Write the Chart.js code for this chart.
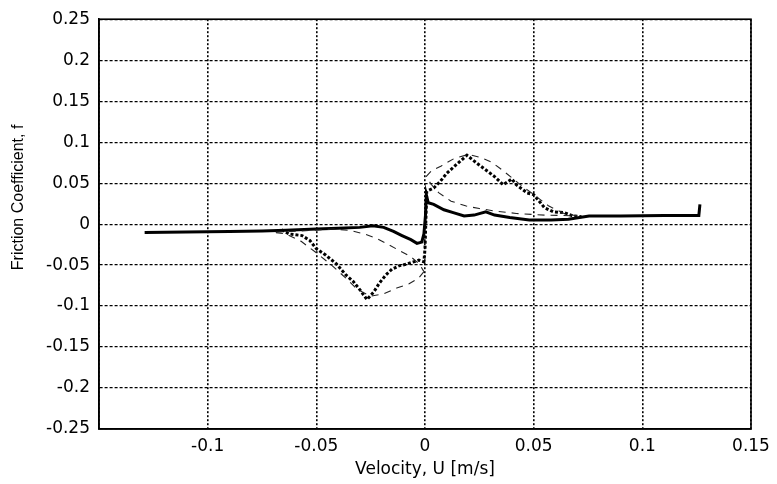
<!DOCTYPE html>
<html lang="en">

<head>
  <meta charset="UTF-8">
  <title>Friction Coefficient vs Velocity</title>
  <script src="https://cdn.jsdelivr.net/npm/chart.js"></script>
  <style>
    body {
      margin: 0;
      background: #ffffff;
    }

    .box_grafico {
      width: 777px;
      height: 484px;
    }
  </style>
</head>

<body>
  <div class="box_grafico">
    <canvas id="graficoAtrito"></canvas>
  </div>

  <script>
    // tick labels (the -0.15 tick on the x axis has no label in the figure)
    const xTickLabels = ['', '-0.1', '-0.05', '0', '0.05', '0.1', '0.15'];
    const yTickLabels = ['-0.25', '-0.2', '-0.15', '-0.1', '-0.05', '0', '0.05', '0.1', '0.15', '0.2', '0.25'];

    // solid thick curve
    const solidU = [-0.129, -0.11, -0.09, -0.075, -0.064, -0.05, -0.04, -0.03, -0.024, -0.019, -0.0145, -0.0106, -0.0065, -0.0037, -0.0015, -0.0005, 0.0002, 0.0006, 0.0015, 0.004, 0.0087, 0.013, 0.018, 0.0226, 0.028, 0.032, 0.039, 0.048, 0.058, 0.066, 0.0755, 0.09, 0.11, 0.126, 0.1265];
    const solidF = [-0.0102, -0.0095, -0.009, -0.0085, -0.0075, -0.006, -0.005, -0.004, -0.002, -0.004, -0.009, -0.014, -0.019, -0.0235, -0.022, -0.012, 0.01, 0.036, 0.026, 0.024, 0.0175, 0.014, 0.010, 0.011, 0.015, 0.011, 0.008, 0.005, 0.005, 0.006, 0.0099, 0.010, 0.0105, 0.0106, 0.024];

    // thick dotted curve
    const dottedU = [-0.066, -0.0626, -0.0566, -0.053, -0.050, -0.0456, -0.041, -0.0364, -0.033, -0.030, -0.0267, -0.0235, -0.021, -0.018, -0.0152, -0.012, -0.0087, -0.0028, -0.0005, 0.0, 0.0008, 0.004, 0.007, 0.010, 0.015, 0.0193, 0.024, 0.028, 0.032, 0.036, 0.040, 0.042, 0.047, 0.050, 0.055, 0.059, 0.064, 0.068, 0.072];
    const dottedF = [-0.007, -0.012, -0.014, -0.020, -0.030, -0.038, -0.048, -0.062, -0.070, -0.080, -0.092, -0.0825, -0.072, -0.062, -0.055, -0.051, -0.049, -0.044, -0.046, -0.030, 0.040, 0.044, 0.052, 0.062, 0.074, 0.084, 0.074, 0.066, 0.058, 0.048, 0.055, 0.048, 0.038, 0.036, 0.020, 0.015, 0.014, 0.010, 0.009];

    // thin dashed loops (negative and positive velocity)
    const dashedNegU = [-0.0005, -0.003, -0.0075, -0.013, -0.019, -0.025, -0.031, -0.0364, -0.043, -0.05, -0.057, -0.064, -0.07, -0.055, -0.042, -0.034, -0.028, -0.0226, -0.0175, -0.012, -0.0064, -0.0025, -0.0005];
    const dashedNegF = [-0.058, -0.066, -0.073, -0.078, -0.085, -0.088, -0.080, -0.066, -0.050, -0.035, -0.021, -0.012, -0.010, -0.008, -0.006, -0.008, -0.012, -0.017, -0.024, -0.032, -0.040, -0.049, -0.058];
    const dashedPosU = [0.0005, 0.003, 0.0075, 0.0134, 0.02, 0.026, 0.031, 0.0355, 0.043, 0.05, 0.057, 0.064, 0.07, 0.055, 0.042, 0.032, 0.025, 0.019, 0.012, 0.0064, 0.003, 0.0005];
    const dashedPosF = [0.058, 0.065, 0.071, 0.080, 0.085, 0.081, 0.075, 0.066, 0.050, 0.036, 0.022, 0.013, 0.010, 0.011, 0.013, 0.016, 0.019, 0.022, 0.028, 0.038, 0.048, 0.058];

    function pontos(us, fs) {
      return us.map((u, i) => ({ x: u, y: fs[i] }));
    }

    // frame round the plot area (top and right sides too)
    const moldura = {
      id: 'moldura',
      afterDraw(chart) {
        const { ctx, chartArea } = chart;
        ctx.save();
        ctx.strokeStyle = '#000';
        ctx.lineWidth = 1.6;
        ctx.setLineDash([]);
        ctx.strokeRect(chartArea.left, chartArea.top, chartArea.right - chartArea.left, chartArea.bottom - chartArea.top);
        ctx.restore();
      }
    };

    const fonteTicks = { family: 'DejaVu Sans', size: 17 };

    new Chart(document.getElementById('graficoAtrito').getContext('2d'), {
      type: 'scatter',
      data: {
        datasets: [
          {
            label: 'dashed neg',
            data: pontos(dashedNegU, dashedNegF),
            showLine: true,
            borderColor: '#222',
            borderWidth: 1.1,
            borderDash: [7, 6],
            pointRadius: 0
          },
          {
            label: 'dashed pos',
            data: pontos(dashedPosU, dashedPosF),
            showLine: true,
            borderColor: '#222',
            borderWidth: 1.1,
            borderDash: [7, 6],
            pointRadius: 0
          },
          {
            label: 'dotted',
            data: pontos(dottedU, dottedF),
            showLine: true,
            borderColor: '#000',
            borderWidth: 3,
            borderDash: [3, 2],
            pointRadius: 0
          },
          {
            label: 'solid',
            data: pontos(solidU, solidF),
            showLine: true,
            borderColor: '#000',
            borderWidth: 3,
            pointRadius: 0
          }
        ]
      },
      options: {
        responsive: true,
        maintainAspectRatio: false,
        animation: false,
        layout: {
          padding: { top: 14, right: 26, left: 0, bottom: 0 }
        },
        plugins: {
          legend: { display: false },
          tooltip: { enabled: false }
        },
        scales: {
          x: {
            type: 'linear',
            min: -0.15,
            max: 0.15,
            afterFit: (scale) => { scale.height = 55; },
            ticks: {
              stepSize: 0.05,
              color: '#000',
              font: fonteTicks,
              padding: 7,
              maxRotation: 0,
              callback: (value, index) => xTickLabels[index]
            },
            grid: {
              color: '#000',
              lineWidth: 1.6,
              drawTicks: false
            },
            border: { color: '#000', width: 1.6, dash: [2, 2] },
            title: {
              display: true,
              text: 'Velocity, U [m/s]',
              color: '#000',
              font: { family: 'DejaVu Sans', size: 17 },
              padding: { top: 0, bottom: 4 }
            }
          },
          y: {
            type: 'linear',
            min: -0.25,
            max: 0.25,
            afterFit: (scale) => { scale.width = 99; },
            ticks: {
              stepSize: 0.05,
              color: '#000',
              font: fonteTicks,
              padding: 9,
              callback: (value, index) => yTickLabels[index]
            },
            grid: {
              color: '#000',
              lineWidth: 1.2,
              drawTicks: false
            },
            border: { color: '#000', width: 1.6, dash: [3, 2] },
            title: {
              display: true,
              text: '            Friction Coefficient, f',
              color: '#000',
              font: { family: 'Liberation Sans', size: 16 },
              padding: { top: 9, bottom: 0 }
            }
          }
        }
      },
      plugins: [moldura]
    });
  </script>
</body>

</html>
